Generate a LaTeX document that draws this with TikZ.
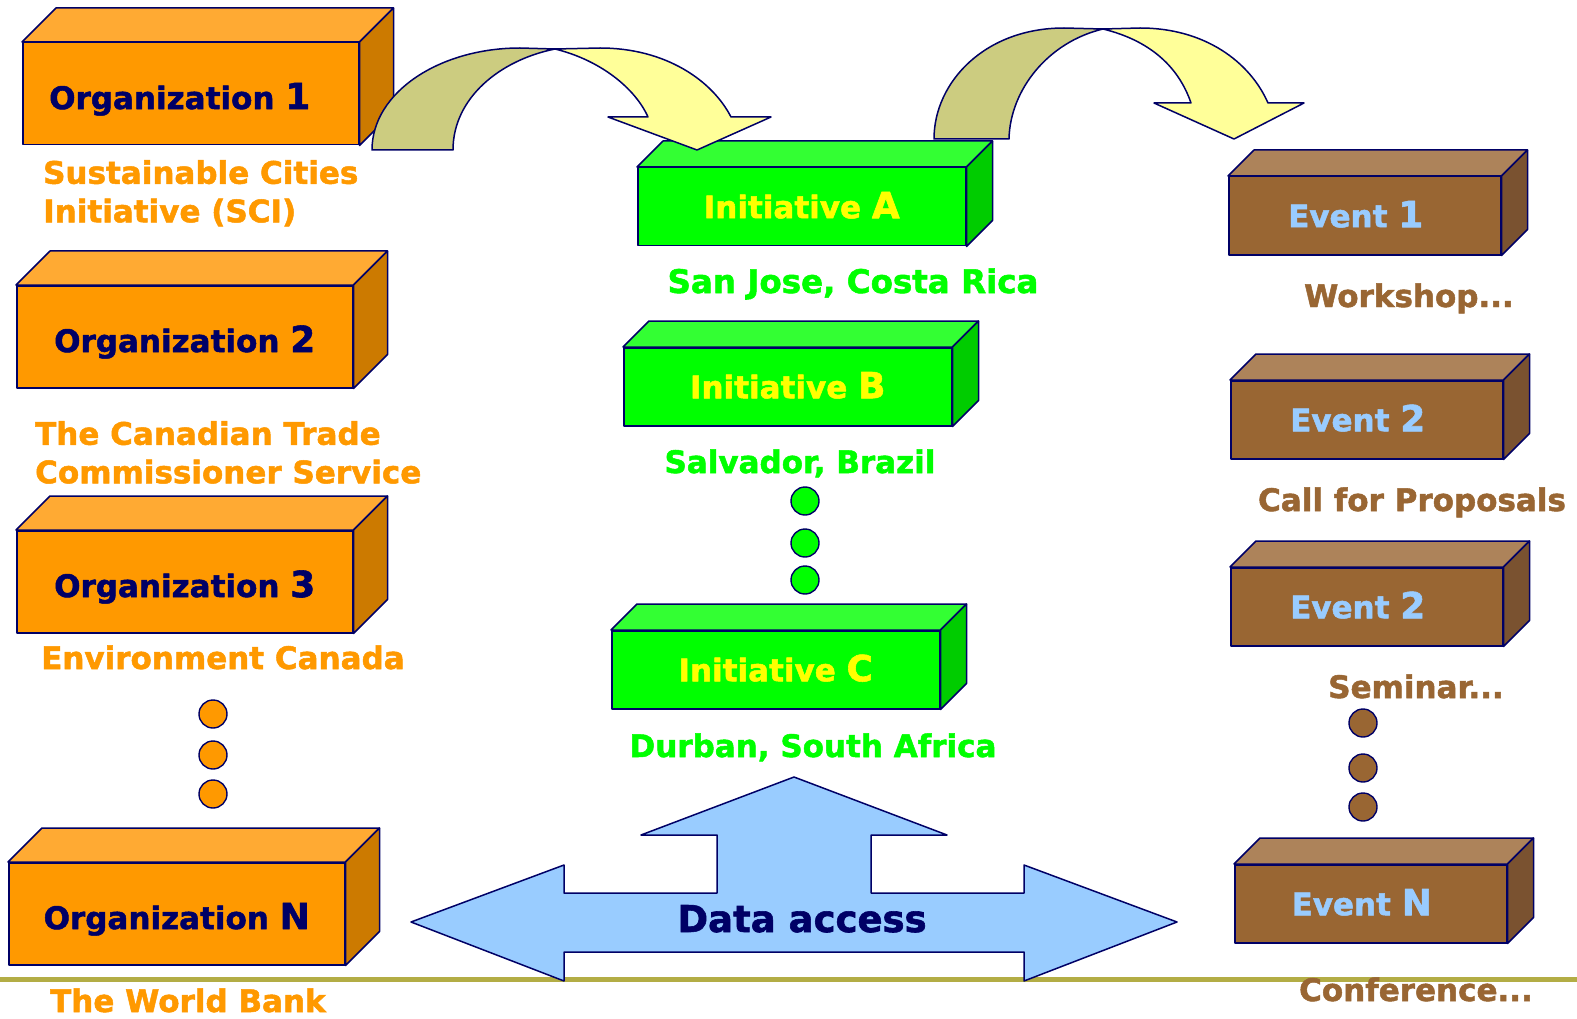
\documentclass[tikz,border=0pt]{standalone}
\usepackage{fontspec}
\setmainfont{DejaVu Sans}[BoldFeatures={FakeBold=1.6}]
\usetikzlibrary{calc}
\definecolor{navy}{HTML}{000066}
\definecolor{orgfront}{HTML}{FF9900}
\definecolor{orgtop}{HTML}{FFAA33}
\definecolor{orgside}{HTML}{CC7A00}
\definecolor{inifront}{HTML}{00FF00}
\definecolor{initop}{HTML}{33FF33}
\definecolor{iniside}{HTML}{00CC00}
\definecolor{inilabel}{HTML}{FFFF00}
\definecolor{evfront}{HTML}{996633}
\definecolor{evtop}{HTML}{AD835A}
\definecolor{evside}{HTML}{7A5230}
\definecolor{evlabel}{HTML}{99CCFF}
\definecolor{bendfront}{HTML}{FFFF99}
\definecolor{bendback}{HTML}{CCCC80}
\definecolor{datablue}{HTML}{99CCFF}
\definecolor{ruleolive}{HTML}{B3AD45}
\newcommand{\boxfont}{\fontsize{31}{31}\selectfont\bfseries}
\newcommand{\captionfont}{\fontsize{31}{38.5}\selectfont\bfseries}
\newcommand{\bigmark}[1]{{\fontsize{36}{36}\selectfont #1}}
% top and side of a box whose front is the node #1
\newcommand{\cubefaces}[4]{%
  \draw[edge, fill=#3] (#1.north west) -- ++(#2,-#2) -- ($(#1.north east)+(#2,-#2)$) -- (#1.north east) -- cycle;
  \draw[edge, fill=#4] (#1.north east) -- ++(#2,-#2) -- ($(#1.south east)+(#2,-#2)$) -- (#1.south east) -- cycle;
}

\begin{document}
\begin{tikzpicture}[x=1pt, y=-1pt,
    edge/.style={draw=navy, line width=1.5pt, line join=round},
    face/.style={edge, inner sep=0pt, anchor=north west, font=\boxfont, text depth=0pt},
    orgface/.style={face, fill=orgfront, text=navy, minimum width=336pt, minimum height=102pt, text height=30.6pt},
    iniface/.style={face, fill=inifront, text=inilabel, minimum width=328pt, minimum height=78pt, text height=23pt},
    evface/.style={face, fill=evfront, text=evlabel, minimum width=272pt, minimum height=78pt, text height=23pt},
    caption/.style={inner sep=0pt, font=\captionfont, align=left},
    dot/.style={circle, draw=navy, line width=1.4pt, minimum size=28pt, inner sep=0pt},
]
\useasboundingbox (0,0) rectangle (1577,1019);

% bottom rule
\draw[ruleolive, line width=5pt] (0,979) -- (1577,979);

% Organizations
\node[orgface] (org1) at (22,42) {Organization \bigmark{1}\hspace*{22pt}};
\cubefaces{org1}{34}{orgtop}{orgside}
\node[orgface] (org2) at (16,285) {Organization \bigmark{2}};
\cubefaces{org2}{34}{orgtop}{orgside}
\node[orgface] (org3) at (16,530) {Organization \bigmark{3}};
\cubefaces{org3}{34}{orgtop}{orgside}
\node[orgface] (orgN) at (8,862) {Organization \bigmark{N}};
\cubefaces{orgN}{34}{orgtop}{orgside}

\node[caption, text=orgfront, anchor=north west] (sci) at (43,160) {Sustainable Cities\\Initiative (SCI)};
\node[caption, text=orgfront, anchor=north west] (tcs) at (35,421) {The Canadian Trade\\Commissioner Service};
\node[caption, text=orgfront, anchor=base west] (envc) at (41,669) {Environment Canada};
\node[caption, text=orgfront, anchor=base west] (wb) at (50,1012) {The World Bank};

\foreach \y [count=\i] in {714,755,794}
  \node[dot, fill=orgfront] (odot\i) at (213,\y) {};

% Initiatives
\node[iniface] (iniA) at (637,167) {Initiative \bigmark{A}};
\cubefaces{iniA}{26}{initop}{iniside}
\node[iniface] (iniB) at (623,347) {Initiative \bigmark{B}};
\cubefaces{iniB}{26}{initop}{iniside}
\node[iniface] (iniC) at (611,630) {Initiative \bigmark{C}};
\cubefaces{iniC}{26}{initop}{iniside}

\node[caption, text=inifront, anchor=base, font=\fontsize{32.5}{32.5}\selectfont\bfseries] (sanjose) at (853,293) {San Jose, Costa Rica};
\node[caption, text=inifront, anchor=base] (salvador) at (800,473) {Salvador, Brazil};
\node[caption, text=inifront, anchor=base] (durban) at (813,757) {Durban, South Africa};

\foreach \y [count=\i] in {501,543,580}
  \node[dot, fill=inifront] (idot\i) at (805,\y) {};

% Events
\node[evface] (ev1) at (1228,176) {Event \bigmark{1}\hspace*{18pt}};
\cubefaces{ev1}{26}{evtop}{evside}
\node[evface] (ev2) at (1230,380) {Event \bigmark{2}\hspace*{18pt}};
\cubefaces{ev2}{26}{evtop}{evside}
\node[evface] (ev3) at (1230,567) {Event \bigmark{2}\hspace*{18pt}};
\cubefaces{ev3}{26}{evtop}{evside}
\node[evface] (evN) at (1234,864) {Event \bigmark{N}\hspace*{18pt}};
\cubefaces{evN}{26}{evtop}{evside}

\node[caption, text=evfront, anchor=base] (workshop) at (1409,307) {Workshop...};
\node[caption, text=evfront, anchor=base] (proposals) at (1412,511) {Call for Proposals};
\node[caption, text=evfront, anchor=base] (seminar) at (1416,698) {Seminar...};
\node[caption, text=evfront, anchor=base] (conference) at (1416,1001) {Conference...};

\foreach \y [count=\i] in {723,768,807}
  \node[dot, fill=evfront] (edot\i) at (1363,\y) {};

% curved arrows
\draw[edge, fill=bendback] (372,150) .. controls (372,92) and (440,48) .. (520,48) -- (555,49)
  .. controls (500,60) and (453,98) .. (453,150) -- cycle;
\draw[edge, fill=bendfront] (555,49) -- (600,48) .. controls (665,48) and (712,80) .. (731,117)
  -- (771,117) -- (697,150) -- (608,117) -- (648,117) .. controls (635,88) and (600,60) .. (555,49) -- cycle;

\draw[edge, fill=bendback] (934,139) .. controls (934,82) and (985,28) .. (1064,28) -- (1103,29)
  .. controls (1048,42) and (1010,90) .. (1009,139) -- cycle;
\draw[edge, fill=bendfront] (1103,29) -- (1140,28) .. controls (1205,28) and (1250,62) .. (1268,103)
  -- (1304,103) -- (1234,139) -- (1154,103) -- (1191,103) .. controls (1178,65) and (1148,40) .. (1103,29) -- cycle;

% data access arrow
\draw[edge, fill=datablue] (411,922) -- (564,865) -- (564,893) -- (717,893) -- (717,835) -- (641,835)
  -- (794,777) -- (947,835) -- (871,835) -- (871,893) -- (1024,893) -- (1024,865) -- (1177,922)
  -- (1024,981) -- (1024,952) -- (564,952) -- (564,981) -- cycle;
\node[font=\fontsize{37}{37}\selectfont\bfseries, text=navy, anchor=base, inner sep=0pt] (data) at (802,932) {Data access};

\end{tikzpicture}
\end{document}
